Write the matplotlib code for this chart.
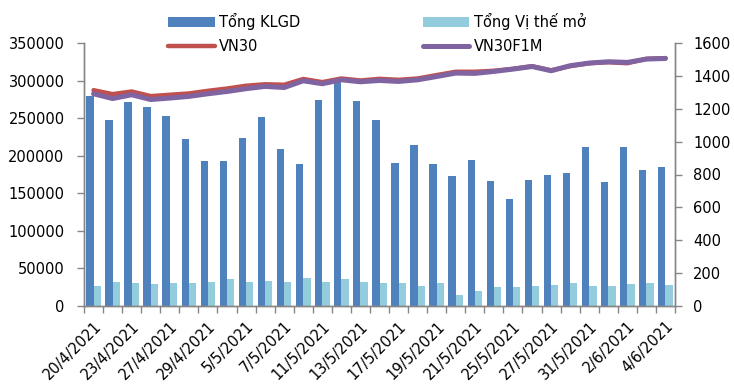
import matplotlib
matplotlib.use("Agg")
import matplotlib.pyplot as plt
import numpy as np

dates = ["20/4/2021", "22/4/2021", "23/4/2021", "26/4/2021", "27/4/2021", "28/4/2021",
         "29/4/2021", "4/5/2021", "5/5/2021", "6/5/2021", "7/5/2021", "10/5/2021",
         "11/5/2021", "12/5/2021", "13/5/2021", "14/5/2021", "17/5/2021", "18/5/2021",
         "19/5/2021", "20/5/2021", "21/5/2021", "24/5/2021", "25/5/2021", "26/5/2021",
         "27/5/2021", "28/5/2021", "31/5/2021", "1/6/2021", "2/6/2021", "3/6/2021",
         "4/6/2021"]

tong_klgd = [280000, 247000, 271600, 265000, 253500, 222500, 193300, 193300, 223400,
             252000, 209000, 189300, 274000, 298000, 273400, 248000, 190700, 214000,
             189300, 173000, 193700, 167000, 142400, 168000, 174000, 176500, 211400,
             165000, 211400, 180500, 185400]

tong_vithe = [26600, 32000, 30000, 29700, 30600, 30000, 32000, 36000, 32000, 33700,
              32000, 37300, 32000, 36000, 32000, 31000, 30000, 26600, 30000, 14200,
              19500, 24800, 25300, 27000, 27500, 30000, 26600, 26600, 28800, 30000,
              27500]

vn30 = [1313, 1289, 1305, 1277, 1285, 1293, 1309, 1323, 1340, 1349, 1346, 1381, 1362,
        1384, 1372, 1382, 1376, 1384, 1405, 1425, 1425, 1431, 1443, 1459, 1434, 1459,
        1477, 1483, 1477, 1504, 1508]

vn30f1m = [1291, 1262, 1285, 1256, 1265, 1275, 1291, 1305, 1322, 1336, 1329, 1370, 1352,
           1376, 1364, 1372, 1366, 1376, 1396, 1417, 1415, 1427, 1441, 1457, 1431, 1462,
           1478, 1486, 1482, 1502, 1506]

left_ticks = [0, 50000, 100000, 150000, 200000, 250000, 300000, 350000]
right_ticks = [0, 200, 400, 600, 800, 1000, 1200, 1400, 1600]

plt.rcParams['font.family'] = ['DejaVu Sans']
FS = 10.5
GRAY = '#868686'

fig = plt.figure(figsize=(7.34, 3.85), dpi=100)
ax = fig.add_axes([84/734, 1-306/385, (675-84)/734, (306-43)/385])
ax2 = ax.twinx()

x = np.arange(len(dates))
w = 0.383
b1 = ax.bar(x - w/2, tong_klgd, width=w, color='#4F81BD', label='Tổng KLGD', zorder=2)
b2 = ax.bar(x + w/2, tong_vithe, width=w, color='#93CDDD', label='Tổng Vị thế mở', zorder=2)

l1, = ax2.plot(x, vn30, color='#C0504D', lw=3.2, label='VN30',
               solid_capstyle='round', solid_joinstyle='round', zorder=3)
l2, = ax2.plot(x, vn30f1m, color='#8064A2', lw=3.6, label='VN30F1M',
               solid_capstyle='round', solid_joinstyle='round', zorder=4)

ax.set_xlim(-0.5, len(dates) - 0.5)
ax.set_ylim(0, 350000)
ax2.set_ylim(0, 1600)
ax.set_yticks(left_ticks)
ax.set_yticklabels([str(v) for v in left_ticks], fontsize=FS)
ax2.set_yticks(right_ticks)
ax2.set_yticklabels([str(v) for v in right_ticks], fontsize=FS)

ax.set_xticks(np.arange(-0.5, len(dates), 1.0))
ax.set_xticklabels([])
ax.set_xticks(x[::2], minor=True)
ax.set_xticklabels([dates[i] for i in x[::2]], minor=True, rotation=45,
                   ha='right', va='top', rotation_mode='anchor', fontsize=FS)
ax.tick_params(axis='x', which='major', direction='out', length=5, color=GRAY, width=1)
ax.tick_params(axis='x', which='minor', length=0, pad=9)
ax.tick_params(axis='y', direction='out', length=5, color=GRAY, width=1, pad=9)
ax2.tick_params(axis='y', direction='out', length=5, color=GRAY, width=1, pad=8)

for a in (ax, ax2):
    a.spines['top'].set_visible(False)
    for s in ('left', 'right', 'bottom'):
        a.spines[s].set_color(GRAY)
        a.spines[s].set_linewidth(1)

leg = fig.legend([b1, l1, b2, l2], ['Tổng KLGD', 'VN30', 'Tổng Vị thế mở', 'VN30F1M'],
                 ncol=2, frameon=False, fontsize=FS, loc='upper left',
                 bbox_to_anchor=(168/734, 1 - 13/385), handlelength=3.2, handleheight=0.65,
                 handletextpad=0.3, columnspacing=8.4, labelspacing=0.6, borderpad=0,
                 borderaxespad=0)

fig.savefig('out.png', dpi=100)
